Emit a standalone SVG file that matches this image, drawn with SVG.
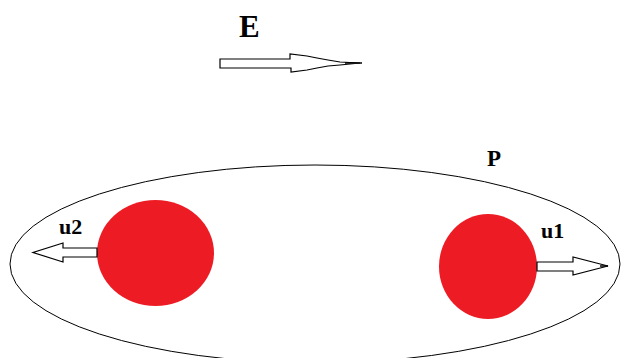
<svg xmlns="http://www.w3.org/2000/svg" width="622" height="358" viewBox="0 0 622 358">
<style>
.lbl{font-family:"Liberation Serif","Times New Roman",serif;font-weight:bold;fill:#000}
.arr{fill:#fff;stroke:#000;stroke-width:1.2;stroke-linejoin:miter}
.ball{fill:#ed1c24;stroke:none}
</style>
<rect width="622" height="358" fill="#fff"/>
<g id="system">
<ellipse cx="315" cy="264" rx="305" ry="99" fill="none" stroke="#000" stroke-width="1"/>
<text class="lbl" x="487" y="166" font-size="23">P</text>
</g>
<g id="field">
<text class="lbl" x="239" y="37" font-size="31">E</text>
</g>
<g id="ball2">
<ellipse class="ball" cx="155.5" cy="253" rx="58.5" ry="53"/>
<text class="lbl" x="59" y="234" font-size="22">u2</text>
</g>
<g id="ball1">
<ellipse class="ball" cx="488" cy="266.5" rx="49" ry="52.5"/>
<text class="lbl" x="541" y="238" font-size="22">u1</text>
</g>
<g id="connectors">
<path class="arr" d="M220,59 H290 V54 L307,56 L317,58 L328,60 L340,62 L360,63 L340,65 L328,66 L317,68 L307,70 L291,72 V68 H220 Z"/>
<line x1="345" y1="63" x2="362" y2="63" stroke="#000" stroke-width="1.5"/>
<path class="arr" d="M97,248 H63 V243 L33,252.5 L63,262 V257 H97 Z"/>
<path class="arr" d="M537,262 H573 V257 L608,266 L573,275 V271 H537 Z"/>
<line x1="600" y1="266" x2="608" y2="266" stroke="#000" stroke-width="1.5"/>
</g>
</svg>
